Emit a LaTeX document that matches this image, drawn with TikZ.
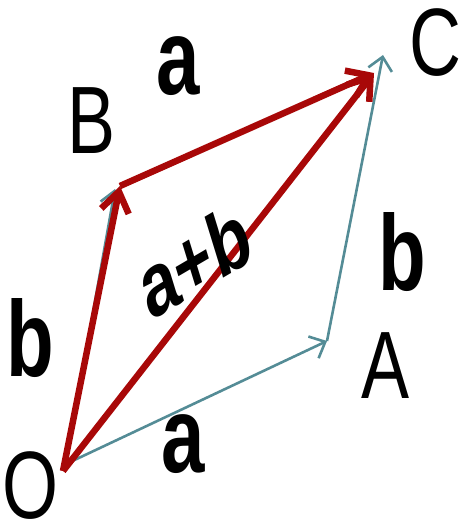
\documentclass[tikz,border=0pt]{standalone}
\usepackage{fontspec}
\setmainfont{Liberation Sans}
\usetikzlibrary{arrows.meta}
\definecolor{vecteal}{RGB}{84,140,150}
\definecolor{vecred}{RGB}{168,8,8}
\newcommand{\ptlabel}[1]{\scalebox{1}[1.33]{\fontsize{72}{72}\selectfont #1}}
\newcommand{\veclabel}[1]{\scalebox{1}[1.38]{\fontsize{78}{78}\selectfont\bfseries #1}}
\newcommand{\sumlabel}[1]{\scalebox{1}[1.38]{\rotatebox{23}{\fontsize{66}{66}\selectfont\bfseries #1}}}
\tikzset{
  tealvec/.style={vecteal, line width=2.6pt, -{Straight Barb[length=13pt, width=24pt]}},
  redvec/.style={vecred, line width=6.5pt, -{Straight Barb[length=20pt, width=28pt]}},
  lbl/.style={inner sep=0pt}
}

\begin{document}
\begin{tikzpicture}[x=1pt, y=-1pt]
  \useasboundingbox (0,0) rectangle (459,527);
  % corners of the parallelogram
  \coordinate (O) at (66,464);
  \coordinate (A) at (327,341);
  \coordinate (B) at (115,189);
  \coordinate (C) at (383,55);
  % red tips sit a little short of B and C
  \coordinate (Ored) at (63,471);
  \coordinate (Bred) at (120,186);
  \coordinate (Cred) at (374,73);

  \draw[tealvec] (O) -- (A);
  \draw[tealvec] (A) -- (C);
  \draw[tealvec] (O) -- (B);
  \draw[redvec] (Ored) -- (Bred);
  \draw[redvec] (Bred) -- (Cred);
  \draw[redvec] (Ored) -- (Cred);

  \node[lbl] (lO) at (31,486) {\ptlabel{O}};
  \node[lbl] (lA) at (386,366) {\ptlabel{A}};
  \node[lbl] (lB) at (92,121) {\ptlabel{B}};
  \node[lbl] (lC) at (435,43) {\ptlabel{C}};
  \node[lbl] (atop) at (178,66) {\veclabel{a}};
  \node[lbl] (abot) at (183,444) {\veclabel{a}};
  \node[lbl] (bleft) at (30,338) {\veclabel{b}};
  \node[lbl] (bright) at (402,252) {\veclabel{b}};
  \node[lbl] (asum) at (194,260) {\sumlabel{a+b}};
\end{tikzpicture}
\end{document}
